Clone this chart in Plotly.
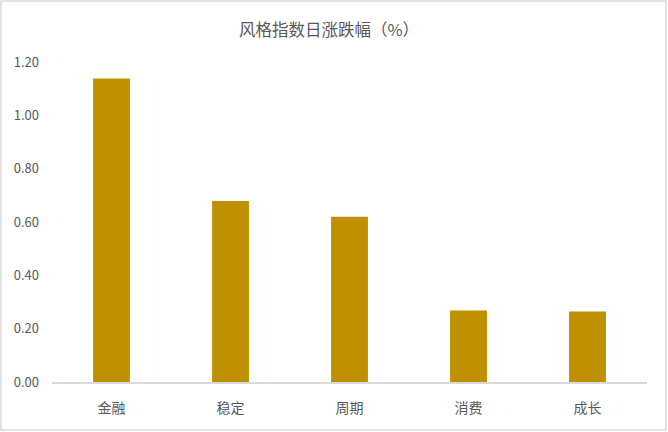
import plotly.graph_objects as go

# Daily change of style indices (%)
categories = ["金融", "稳定", "周期", "消费", "成长"]
values = [1.138, 0.679, 0.620, 0.268, 0.264]
y_ticks = [0.0, 0.2, 0.4, 0.6, 0.8, 1.0, 1.2]
y_tick_labels = ["0.00", "0.20", "0.40", "0.60", "0.80", "1.00", "1.20"]
title_text = "风格指数日涨跌幅（%）"

W, H = 668, 432
ML, MR, MT, MB = 52, 21, 62, 50
pw, ph = W - ML - MR, H - MT - MB

font_family = "Noto Sans CJK SC, Noto Sans, sans-serif"
text_color = "#595959"

fig = go.Figure(
    go.Bar(
        x=categories,
        y=values,
        width=0.31,
        marker=dict(color="#BF9000", line=dict(width=0)),
    )
)

# outer frame of the chart area, expressed in paper coordinates
x0 = (1 - ML) / pw
x1 = (W - 2 - ML) / pw
y_bottom = -(MB - 2) / ph
y_top = 1 + (MT - 1) / ph

fig.update_layout(
    width=W,
    height=H,
    margin=dict(l=ML, r=MR, t=MT, b=MB),
    paper_bgcolor="white",
    plot_bgcolor="white",
    showlegend=False,
    font=dict(family=font_family, color=text_color, size=13),
    title=dict(
        text=title_text,
        x=329 / W,
        xanchor="center",
        y=1 - 30 / H,
        yanchor="middle",
        font=dict(size=16.5, color=text_color, family=font_family),
    ),
    shapes=[
        dict(
            type="rect",
            xref="paper",
            yref="paper",
            x0=x0,
            x1=x1,
            y0=y_bottom,
            y1=y_top,
            line=dict(color="#D9D9D9", width=1.5),
            fillcolor="rgba(0,0,0,0)",
            layer="below",
        )
    ],
)

fig.update_xaxes(
    showgrid=False,
    showline=True,
    linecolor="#D9D9D9",
    linewidth=1.5,
    ticks="",
    tickfont=dict(size=14, color=text_color),
    ticklabelstandoff=12,
)

fig.update_yaxes(
    range=[0, 1.2],
    tickvals=y_ticks,
    ticktext=y_tick_labels,
    showgrid=False,
    zeroline=False,
    showline=False,
    ticks="",
    tickfont=dict(size=13, color=text_color),
    ticklabelstandoff=12,
)

fig.write_html("out.html")
